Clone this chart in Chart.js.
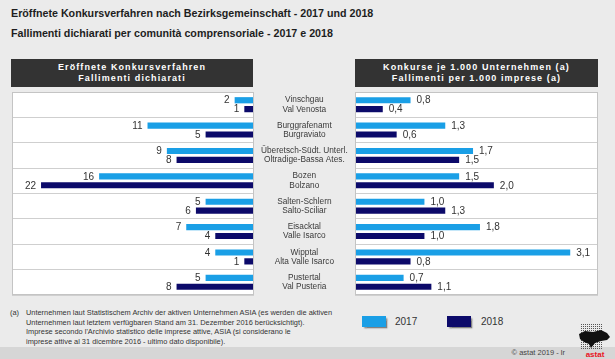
<!DOCTYPE html>
<html>
<head>
<meta charset="utf-8">
<script src="https://cdn.jsdelivr.net/npm/chart.js@4.4.1/dist/chart.umd.min.js"></script>
<style>
  html, body { margin:0; padding:0; }
  body { width:615px; height:359px; background:#ebebeb; position:relative; overflow:hidden; font-family:"Liberation Sans", Arial, sans-serif; color:#222; }
  .title { position:absolute; left:11px; font-weight:bold; font-size:10.7px; color:#1e1e1e; white-space:nowrap; }
  .hdr { position:absolute; top:59px; height:28px; background:#333333; color:#fff; font-weight:bold; font-size:9px; letter-spacing:1.1px; text-align:center; line-height:10.7px; padding-top:3px; box-sizing:border-box; }
  .cv { position:absolute; }
  .foot { position:absolute; font-size:7.4px; line-height:9.5px; color:#333; white-space:nowrap; }
  .lg { position:absolute; top:316px; width:24px; height:11px; box-shadow:1.5px 1.5px 1.5px rgba(0,0,0,0.45); }
  .lgt { position:absolute; top:316px; font-size:10px; line-height:12px; color:#333; }
  .strip { position:absolute; left:0; top:347px; width:615px; height:12px; background:#d6d6d6; }
  .copy { position:absolute; top:348px; right:50px; font-size:7.5px; line-height:10px; color:#444; }
</style>
</head>
<body>
<div class="title" style="top:7px">Eröffnete Konkursverfahren nach Bezirksgemeinschaft - 2017 und 2018</div>
<div class="title" style="top:27px">Fallimenti dichiarati per comunità comprensoriale - 2017 e 2018</div>

<div class="hdr" style="left:11px; width:242px;">Eröffnete Konkursverfahren<br>Fallimenti dichiarati</div>
<div class="hdr" style="left:355px; width:243px;">Konkurse je 1.000 Unternehmen (a)<br>Fallimenti per 1.000 imprese (a)</div>

<div class="cv" style="left:11px; top:91px; width:345px; height:205px;"><canvas id="left"></canvas></div>
<div class="cv" style="left:354px; top:91px; width:245px; height:205px;"><canvas id="right"></canvas></div>

<div class="foot" style="left:10px; top:308px;">(a)</div>
<div class="foot" style="left:26px; top:308px;">Unternehmen laut Statistischem Archiv der aktiven Unternehmen ASIA (es werden die aktiven<br>Unternehmen laut letztem verfügbaren Stand am 31. Dezember 2016 berücksichtigt).<br>Imprese secondo l'Archivio statistico delle imprese attive, ASIA (si considerano le<br>imprese attive al 31 dicembre 2016 - ultimo dato disponibile).</div>

<div class="lg" style="left:362px; background:#1a9fe6;"></div>
<div class="lgt" style="left:395px;">2017</div>
<div class="lg" style="left:447px; background:#0c0a6a;"></div>
<div class="lgt" style="left:481px;">2018</div>

<div class="strip"></div>
<div class="copy">© astat 2019 - lr</div>
<svg style="position:absolute; left:575px; top:322px;" width="40" height="37" viewBox="0 0 40 37">
  <defs>
    <pattern id="dots" width="2" height="2" patternUnits="userSpaceOnUse"><rect width="1" height="1" fill="#555"/></pattern>
  </defs>
  <rect x="6" y="2" width="22" height="26" fill="url(#dots)"/>
  <path d="M4 12 L10 9 L18 10 L26 8 L32 11 L35 15 L32 18 L26 19 L20 21 L16 26 L14 22 L9 20 L5 17 Z" fill="#111"/>
  <text x="20" y="35" text-anchor="middle" font-family="Liberation Sans, Arial" font-weight="bold" font-size="8" fill="#e8141e">astat</text>
</svg>

<script>
const regionsDE = ["Vinschgau","Burggrafenamt","Überetsch-Südt. Unterl.","Bozen","Salten-Schlern","Eisacktal","Wipptal","Pustertal"];
const regionsIT = ["Val Venosta","Burgraviato","Oltradige-Bassa Ates.","Bolzano","Salto-Sciliar","Valle Isarco","Alta Valle Isarco","Val Pusteria"];
const years = ["2017","2018"];
const count2017 = [2, 11, 9, 16, 5, 7, 4, 5];
const count2018 = [1, 5, 8, 22, 6, 4, 1, 8];
const rate2017 = [0.8, 1.3, 1.7, 1.5, 1.0, 1.8, 3.1, 0.7];
const rate2018 = [0.4, 0.6, 1.5, 2.0, 1.3, 1.0, 0.8, 1.1];

const C17 = '#1a9fe6', C18 = '#0c0a6a';
const labels = regionsDE.map((d, i) => [d, regionsIT[i]]);

const boxPlugin = {
  id: 'box',
  beforeDraw(chart) {
    const a = chart.chartArea, ctx = chart.ctx;
    ctx.save();
    ctx.fillStyle = '#ffffff';
    ctx.fillRect(a.left, a.top, a.right - a.left, a.bottom - a.top);
    ctx.restore();
  },
  afterDraw(chart) {
    const a = chart.chartArea, ctx = chart.ctx;
    ctx.save();
    ctx.strokeStyle = '#c4c4c4';
    ctx.lineWidth = 1;
    ctx.strokeRect(Math.round(a.left) + 0.5, Math.round(a.top) + 0.5, Math.round(a.right - a.left) - 1, Math.round(a.bottom - a.top) - 1);
    ctx.restore();
  }
};

function valuePlugin(side, fmt) {
  return {
    id: 'vals' + side,
    afterDatasetsDraw(chart) {
      const ctx = chart.ctx;
      ctx.save();
      ctx.font = '10px "Liberation Sans", Arial, sans-serif';
      ctx.fillStyle = '#333';
      ctx.textBaseline = 'middle';
      ctx.textAlign = side === 'left' ? 'right' : 'left';
      chart.data.datasets.forEach((ds, di) => {
        chart.getDatasetMeta(di).data.forEach((bar, i) => {
          const x = side === 'left' ? bar.x - 5 : bar.x + 6;
          ctx.fillText(fmt(ds.data[i]), x, bar.y + 0.5);
        });
      });
      ctx.restore();
    }
  };
}

function datasets(a, b) {
  return [
    { label: years[0], data: a, backgroundColor: C17, categoryPercentage: 0.7, barPercentage: 0.7 },
    { label: years[1], data: b, backgroundColor: C18, categoryPercentage: 0.7, barPercentage: 0.7 }
  ];
}

const common = {
  indexAxis: 'y',
  responsive: true,
  maintainAspectRatio: false,
  animation: false,
  events: [],
  plugins: { legend: { display: false }, tooltip: { enabled: false } }
};

new Chart(document.getElementById('left'), {
  type: 'bar',
  data: { labels: labels, datasets: datasets(count2017, count2018) },
  options: Object.assign({}, common, {
    layout: { padding: { left: 1, top: 1, bottom: 1, right: 0 } },
    scales: {
      x: { type: 'linear', reverse: true, min: 0, max: 25, display: false },
      y: {
        position: 'right',
        grid: { offset: true, color: '#cfcfcf', drawTicks: false, lineWidth: 1 },
        border: { display: false },
        ticks: { crossAlign: 'center', padding: 7, color: '#3a3a3a',
                 font: { family: '"Liberation Sans", Arial, sans-serif', size: 8.3, lineHeight: 1.12 } },
        afterFit(s) { s.width = 102; s.paddingTop = 0; s.paddingBottom = 0; }
      }
    }
  }),
  plugins: [boxPlugin, valuePlugin('left', v => String(v))]
});

new Chart(document.getElementById('right'), {
  type: 'bar',
  data: { labels: labels, datasets: datasets(rate2017, rate2018) },
  options: Object.assign({}, common, {
    layout: { padding: { left: 1, top: 1, bottom: 1, right: 1 } },
    scales: {
      x: { type: 'linear', min: 0, max: 3.5, display: false },
      y: {
        position: 'left',
        grid: { offset: true, color: '#cfcfcf', drawTicks: false, lineWidth: 1 },
        border: { display: false },
        ticks: { display: false },
        afterFit(s) { s.width = 0; s.paddingTop = 0; s.paddingBottom = 0; }
      }
    }
  }),
  plugins: [boxPlugin, valuePlugin('right', v => v.toFixed(1).replace('.', ','))]
});
</script>
</body>
</html>
